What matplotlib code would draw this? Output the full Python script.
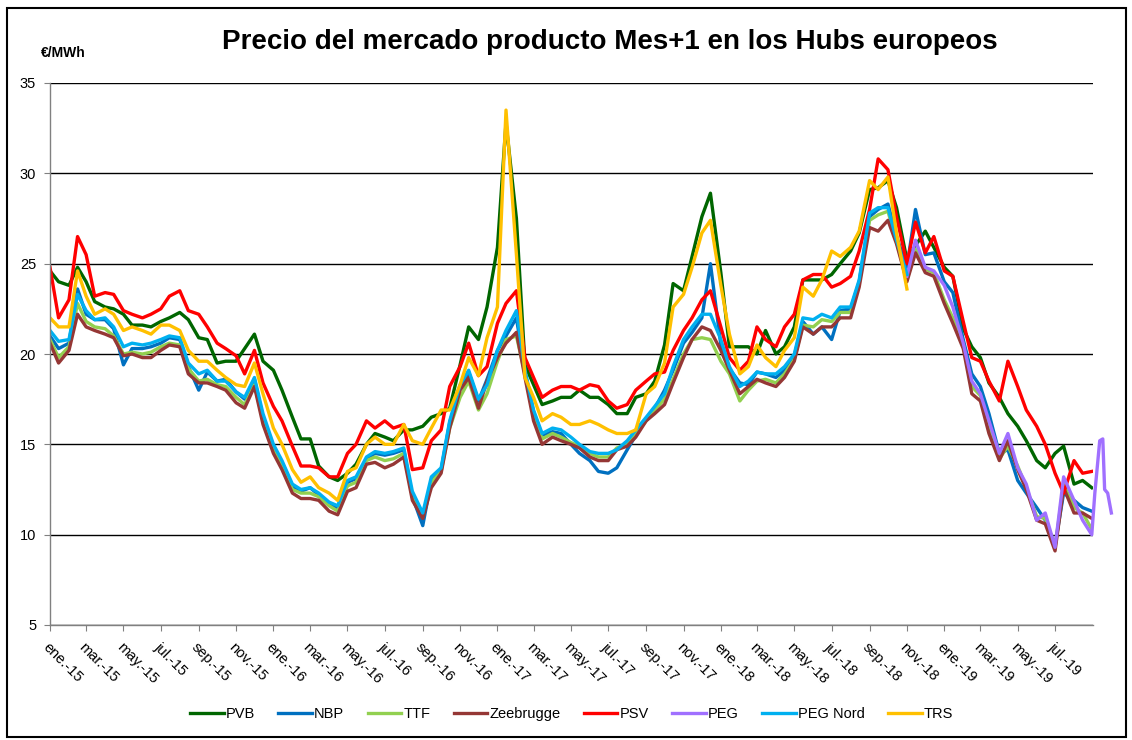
import pandas as pd
import matplotlib
matplotlib.use("Agg")
import matplotlib.pyplot as plt
from matplotlib.transforms import ScaledTranslation
from matplotlib.patches import Rectangle

plt.rcParams['font.family'] = ['Liberation Sans', 'DejaVu Sans']

# semi-monthly readings (1st and 15th of each month), last point end of Aug 2019
dates = list(pd.date_range("2015-01-01", "2019-08-15", freq="SMS")) + [pd.Timestamp("2019-08-30")]

psv = [24.8, 22.0, 23.0, 26.5, 25.5, 23.2, 23.4, 23.3, 22.4, 22.2, 22.0, 22.2, 22.5, 23.2, 23.5, 22.4, 22.2, 21.5, 20.6, 20.3, 19.9, 18.9, 20.2, 18.4,
       17.1, 16.3, 14.9, 13.8, 13.8, 13.7, 13.2, 13.2, 14.5, 15.0, 16.3, 15.9, 16.3, 15.9, 16.1, 13.6, 13.7, 15.2, 15.8, 18.2, 19.3, 20.6, 18.8, 19.3,
       21.7, 22.8, 23.5, 19.8, 18.7, 17.6, 18.0, 18.2, 18.2, 18.0, 18.3, 18.2, 17.4, 17.0, 17.2, 18.0, 18.5, 18.9, 19.0, 20.2, 21.3, 22.0, 23.0, 23.5,
       21.5, 19.8, 19.1, 19.6, 21.5, 20.8, 20.4, 21.5, 22.2, 24.1, 24.4, 24.4, 23.7, 23.9, 24.3, 25.7, 28.0, 30.8, 30.2, 27.6, 25.0, 27.3, 25.6, 26.5,
       24.6, 24.3, 21.8, 19.8, 19.6, 18.5, 17.4, 19.6, 18.2, 16.9, 16.0, 15.0, 13.4, 12.3, 14.1, 13.4, 13.5]

pvb = [24.6, 24.0, 23.8, 24.8, 24.0, 22.9, 22.6, 22.5, 22.2, 21.6, 21.6, 21.5, 21.8, 22.0, 22.3, 21.9, 20.9, 20.8, 19.5, 19.6, 19.6, 20.3, 21.1, 19.6,
       19.1, 18.0, 16.5, 15.3, 15.3, 13.8, 13.2, 13.0, 13.4, 13.9, 15.0, 15.6, 15.4, 15.2, 15.8, 15.8, 16.0, 16.5, 16.7, 17.0, 19.4, 21.5, 20.8, 22.6,
       25.9, 32.8, 27.5, 19.4, 18.3, 17.2, 17.4, 17.6, 17.6, 18.0, 17.6, 17.6, 17.2, 16.7, 16.7, 17.6, 17.8, 18.5, 20.5, 23.9, 23.5, 25.4, 27.6, 28.9,
       24.5, 20.4, 20.4, 20.4, 20.0, 21.3, 20.0, 20.4, 21.5, 24.1, 24.1, 24.1, 24.4, 25.0, 25.7, 26.7, 29.1, 29.2, 29.6, 28.1, 25.2, 26.0, 26.8, 25.9,
       24.8, 24.3, 21.4, 20.4, 19.8, 18.4, 17.6, 16.7, 16.0, 15.2, 14.1, 13.7, 14.5, 14.9, 12.8, 13.0, 12.6]

nbp = [21.0, 20.3, 20.6, 23.6, 22.2, 21.9, 21.9, 21.4, 19.4, 20.3, 20.3, 20.4, 20.6, 20.9, 20.8, 19.3, 18.0, 19.0, 18.5, 18.6, 17.9, 17.5, 18.6, 16.5,
       14.8, 14.0, 12.7, 12.4, 12.6, 12.2, 11.7, 11.5, 12.9, 13.1, 14.2, 14.5, 14.4, 14.5, 14.7, 12.1, 10.5, 13.0, 13.6, 16.2, 18.2, 19.0, 17.4, 18.6,
       20.2, 21.0, 22.0, 19.0, 16.8, 15.5, 15.7, 15.6, 15.0, 14.5, 14.1, 13.5, 13.4, 13.7, 14.7, 15.5, 16.4, 17.0, 18.0, 19.1, 20.6, 21.2, 22.0, 25.0,
       20.5, 19.2, 18.4, 18.3, 19.0, 18.9, 18.7, 19.1, 19.9, 21.8, 21.1, 21.5, 20.8, 22.4, 22.5, 24.0, 27.6, 28.0, 28.3, 26.5, 24.8, 28.0, 25.5, 25.6,
       24.0, 23.4, 20.8, 18.9, 18.2, 16.7, 14.5, 14.7, 13.0, 12.3, 11.5, 10.8, 9.4, 12.3, 11.9, 11.5, 11.3]

ttf = [20.8, 19.8, 20.4, 22.8, 21.8, 21.5, 21.4, 21.0, 20.0, 20.1, 20.0, 20.1, 20.4, 20.6, 20.5, 19.2, 18.5, 18.6, 18.3, 18.2, 17.6, 17.2, 18.3, 16.3,
       14.7, 13.8, 12.5, 12.3, 12.3, 12.1, 11.6, 11.3, 12.7, 12.9, 14.1, 14.3, 14.1, 14.2, 14.5, 12.1, 11.0, 12.9, 13.5, 15.9, 17.6, 18.5, 16.9, 17.8,
       19.6, 20.8, 21.0, 18.9, 16.5, 15.3, 15.6, 15.4, 15.1, 14.9, 14.5, 14.3, 14.3, 14.8, 15.0, 15.6, 16.3, 16.9, 17.5, 18.6, 20.0, 20.8, 20.9, 20.8,
       19.6, 18.9, 17.4, 18.0, 18.5, 18.6, 18.4, 18.9, 19.7, 21.6, 21.5, 21.9, 21.8, 22.3, 22.3, 23.9, 27.4, 27.7, 27.9, 26.2, 24.1, 25.8, 24.7, 24.5,
       23.0, 22.0, 20.5, 18.2, 17.7, 15.9, 14.2, 14.9, 13.8, 12.6, 11.0, 10.9, 9.3, 12.8, 11.5, 11.2, 10.3]

zee = [20.6, 19.5, 20.2, 22.2, 21.5, 21.3, 21.1, 20.9, 19.9, 20.0, 19.8, 19.8, 20.2, 20.5, 20.4, 18.9, 18.4, 18.4, 18.2, 18.0, 17.3, 17.0, 18.2, 16.1,
       14.5, 13.6, 12.3, 12.0, 12.0, 11.9, 11.3, 11.1, 12.4, 12.6, 13.9, 14.0, 13.7, 13.9, 14.3, 11.9, 10.9, 12.6, 13.4, 15.9, 18.0, 18.7, 17.0, 18.5,
       19.8, 20.6, 21.2, 18.7, 16.3, 15.0, 15.4, 15.2, 15.0, 14.8, 14.3, 14.1, 14.1, 14.7, 14.9, 15.4, 16.3, 16.7, 17.2, 18.4, 19.8, 20.8, 21.5, 21.3,
       20.2, 19.1, 17.8, 18.2, 18.6, 18.4, 18.2, 18.7, 19.6, 21.5, 21.1, 21.5, 21.5, 22.0, 22.0, 23.7, 27.0, 26.8, 27.4, 26.1, 24.0, 25.6, 24.5, 24.3,
       22.8, 21.7, 20.3, 17.8, 17.4, 15.6, 14.1, 15.2, 13.6, 12.5, 10.8, 10.6, 9.1, 12.6, 11.2, 11.2, 10.9]

# PEG Nord and TRS stop at 1 Nov 2018 (merged into PEG)
peg_nord = [21.3, 20.7, 20.8, 23.3, 22.4, 21.9, 22.0, 21.5, 20.4, 20.6, 20.5, 20.6, 20.8, 21.0, 20.9, 19.5, 18.9, 19.1, 18.5, 18.5, 17.9, 17.6, 18.7, 16.7,
            15.0, 14.1, 12.8, 12.5, 12.6, 12.3, 11.8, 11.6, 13.0, 13.2, 14.3, 14.6, 14.5, 14.6, 14.8, 12.4, 11.2, 13.2, 13.7, 16.3, 18.3, 19.1, 17.5, 18.3,
            20.2, 21.3, 22.4, 19.1, 16.9, 15.6, 15.9, 15.8, 15.4, 15.0, 14.6, 14.5, 14.5, 14.7, 15.2, 15.8, 16.5, 17.1, 17.8, 19.3, 20.8, 21.5, 22.2, 22.2,
            20.8, 19.3, 18.2, 18.5, 19.0, 18.9, 18.9, 19.3, 20.0, 22.0, 21.9, 22.2, 22.0, 22.6, 22.6, 24.1, 27.8, 28.1, 28.1, 26.3, 24.4]

trs = [22.0, 21.5, 21.5, 24.6, 23.2, 22.2, 22.5, 22.2, 21.3, 21.5, 21.3, 21.1, 21.6, 21.6, 21.3, 20.2, 19.6, 19.6, 19.1, 18.7, 18.3, 18.2, 19.5, 17.8,
       15.9, 15.0, 13.6, 12.9, 13.2, 12.6, 12.3, 11.9, 13.5, 13.7, 15.0, 15.4, 15.0, 15.0, 16.1, 15.2, 15.0, 15.9, 16.9, 16.9, 18.3, 19.8, 18.8, 20.9,
       22.6, 33.5, 25.5, 18.7, 17.6, 16.3, 16.7, 16.5, 16.1, 16.1, 16.3, 16.1, 15.8, 15.6, 15.6, 15.8, 17.8, 18.2, 19.5, 22.6, 23.3, 24.8, 26.7, 27.4,
       23.8, 21.1, 18.9, 19.3, 20.5, 19.8, 19.3, 20.2, 20.9, 23.7, 23.2, 24.1, 25.7, 25.4, 25.9, 26.8, 29.6, 29.1, 29.8, 26.7, 23.6]

# PEG starts 1 Nov 2018 and runs a bit past the axis end
peg = [24.3, 26.3, 24.8, 24.6, 23.8, 22.6, 20.6, 18.5, 17.8, 16.3, 14.5, 15.6, 13.7, 12.8, 10.8, 11.2, 9.3, 13.2, 11.9, 10.8, 10.0]
peg_extra_dates = ["2019-09-04", "2019-09-12", "2019-09-17", "2019-09-20", "2019-09-25", "2019-10-01"]
peg_extra = [12.3, 15.2, 15.3, 12.5, 12.3, 11.2]

meses = ["ene", "feb", "mar", "abr", "may", "jun", "jul", "ago", "sep", "oct", "nov", "dic"]
tick_dates = pd.date_range("2015-01-01", "2019-07-01", freq="2MS")
tick_labels = [f"{meses[d.month - 1]}.-{d.strftime('%y')}" for d in tick_dates]

n_short = len(trs)
peg_dates = dates[n_short - 1:] + [pd.Timestamp(d) for d in peg_extra_dates]

fig = plt.figure(figsize=(11.32, 7.40), dpi=100)
ax = fig.add_axes([50 / 1132, 1 - 625 / 740, 1043 / 1132, 542 / 740])

lw = 2.4
ax.plot(dates, pvb, color="#006600", lw=lw, label="PVB")
ax.plot(dates, nbp, color="#0070C0", lw=lw, label="NBP")
ax.plot(dates, ttf, color="#92D050", lw=lw, label="TTF")
ax.plot(dates, zee, color="#953735", lw=lw, label="Zeebrugge")
ax.plot(dates, psv, color="#FF0000", lw=lw, label="PSV")
ax.plot(peg_dates, peg + peg_extra, color="#A070FF", lw=lw, label="PEG", clip_on=False)
ax.plot(dates[:n_short], peg_nord, color="#00B0F0", lw=lw, label="PEG Nord")
ax.plot(dates[:n_short], trs, color="#FFC000", lw=lw, label="TRS")

ax.set_xlim(pd.Timestamp("2015-01-01"), pd.Timestamp("2019-09-01"))
ax.set_ylim(5, 35)
ax.set_yticks(range(5, 36, 5))
ax.set_xticks(tick_dates)
ax.set_xticklabels(tick_labels, rotation=-45, ha="left", va="top", rotation_mode="anchor")
for lab in ax.get_xticklabels():
    lab.set_transform(lab.get_transform() + ScaledTranslation(-4 / 72, 0, fig.dpi_scale_trans))

ax.tick_params(axis="both", direction="out", length=4, color="#808080", labelsize=10.5)
ax.tick_params(axis="x", pad=7)
ax.tick_params(axis="y", pad=6)

ax.set_axisbelow(True)
ax.yaxis.grid(True, color="black", lw=1.0)
for s in ["top", "right"]:
    ax.spines[s].set_visible(False)
for s in ["left", "bottom"]:
    ax.spines[s].set_color("#808080")
    ax.spines[s].set_linewidth(1.0)

fig.text(610 / 1132, 1 - 42 / 740, "Precio del mercado producto Mes+1 en los Hubs europeos",
         ha="center", va="center", fontsize=20, fontweight="bold")
fig.text(63 / 1132, 1 - 53 / 740, "€/MWh", ha="center", va="center", fontsize=10, fontweight="bold")

fig.legend(loc="lower center", bbox_to_anchor=(0.505, 0.008), ncol=8, frameon=False,
           fontsize=10.5, handlelength=2.3, handletextpad=0.15, columnspacing=1.6)

fig.patches.append(Rectangle((7 / 1132, 3 / 740), 1119 / 1132, 729 / 740, transform=fig.transFigure,
                             fill=False, edgecolor="black", lw=1.5))

fig.savefig("out.png", dpi=100)
